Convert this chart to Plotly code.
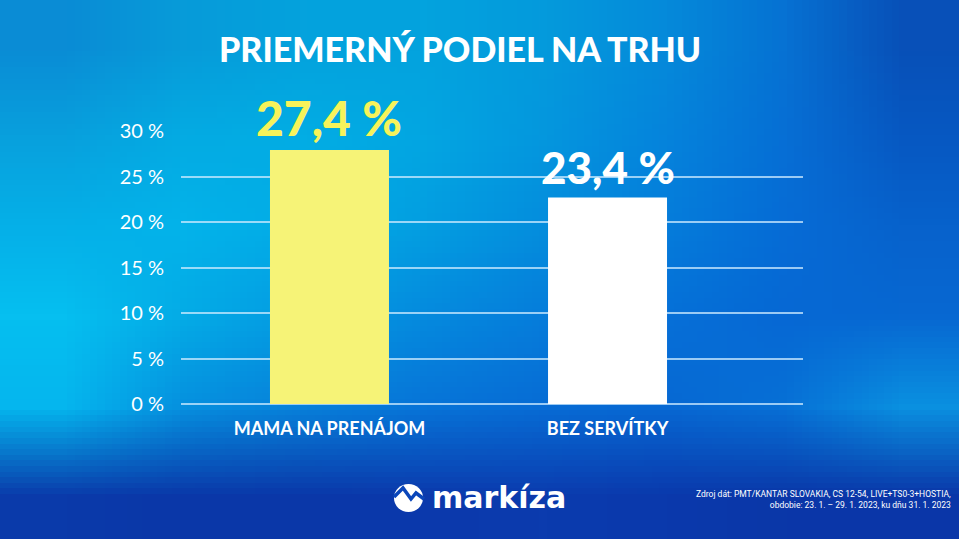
import base64
import struct
import zlib
import plotly.graph_objects as go

# chart data
shows = ["MAMA NA PRENÁJOM", "BEZ SERVÍTKY"]
share = [27.9, 22.7]            # bar heights as drawn
share_labels = ["27,4 %", "23,4 %"]
bar_colors = ["#f6f377", "#ffffff"]
label_colors = ["#f7f35a", "#ffffff"]
label_sizes = [48, 44]
y_ticks = [0, 5, 10, 15, 20, 25, 30]

title = "PRIEMERNÝ PODIEL NA TRHU"
source = "Zdroj dát: PMT/KANTAR SLOVAKIA, CS 12-54, LIVE+TS0-3+HOSTIA,<br>obdobie: 23. 1. – 29. 1. 2023, ku dňu 31. 1. 2023"

W, H = 959, 539

# background gradient, tiny png stretched by the browser
bg_rows = [
    ["#0a8cd5", "#079bd9", "#04a2dd", "#03a3de", "#049adc", "#058ada", "#0672d3", "#0850b8"],
    ["#08a0dd", "#04abe3", "#02ade4", "#03a6e2", "#0497de", "#0584dc", "#066fd5", "#0658c2"],
    ["#05b0e8", "#03b3ea", "#02abe6", "#039ee1", "#048ddd", "#057ddb", "#066cd6", "#0762cc"],
    ["#06bff0", "#04abe6", "#049ae2", "#058ade", "#067ddb", "#0670d8", "#0668d4", "#0768d2"],
    ["#05b6ee", "#0690df", "#0780da", "#0774d8", "#076cd5", "#0768d3", "#0770d6", "#0a90e0"],
    ["#0a3aaa", "#0a37a8", "#0a37a8", "#0b39ac", "#0b3bae", "#0a39ac", "#0a37a8", "#0a36a8"],
]


def rgb(h):
    h = h.lstrip("#")
    return [int(h[i:i + 2], 16) for i in (0, 2, 4)]


def png_uri(rows):
    w, h = len(rows[0]), len(rows)
    raw = b"".join(b"\x00" + bytes(sum((rgb(c) for c in row), [])) for row in rows)

    def chunk(t, d):
        return struct.pack(">I", len(d)) + t + d + struct.pack(">I", zlib.crc32(t + d) & 0xffffffff)

    png = (b"\x89PNG\r\n\x1a\n" + chunk(b"IHDR", struct.pack(">IIBBBBB", w, h, 8, 2, 0, 0, 0))
           + chunk(b"IDAT", zlib.compress(raw)) + chunk(b"IEND", b""))
    return "data:image/png;base64," + base64.b64encode(png).decode()


def px(x):
    return x / W


def py(y):
    return 1 - y / H


fig = go.Figure()
fig.add_trace(go.Bar(x=list(range(len(shows))), y=share, width=0.428,
                     marker=dict(color=bar_colors, line_width=0), hoverinfo="skip"))

for i, t in enumerate(share_labels):
    fig.add_annotation(x=i, y=share[i], xref="x", yref="y", text=t, showarrow=False,
                       yanchor="bottom", yshift=2,
                       font=dict(family="Lato", size=label_sizes[i], color=label_colors[i], weight=900))

fig.add_annotation(x=px(460), y=py(48), xref="paper", yref="paper", text=title,
                   showarrow=False, xanchor="center", yanchor="middle",
                   font=dict(family="Lato", size=34, color="white", weight=900))

fig.add_annotation(x=px(953), y=py(499), xref="paper", yref="paper", text=source,
                   showarrow=False, xanchor="right", yanchor="middle", align="right",
                   font=dict(family="Roboto", size=8.5, color="white"))

# logo
fig.add_shape(type="circle", xref="paper", yref="paper", x0=px(394), x1=px(423), y0=py(512), y1=py(484),
              fillcolor="white", line_width=0, layer="above")
fig.add_shape(type="path", xref="paper", yref="paper",
              path="M {} {} L {} {} L {} {} L {} {} L {} {}".format(
                  px(394), py(497), px(403), py(488), px(411), py(499), px(416), py(493), px(424), py(499)),
              line=dict(color="#0a46ba", width=3.5), layer="above")
fig.add_annotation(x=px(430), y=py(497), xref="paper", yref="paper", text="markíza",
                   showarrow=False, xanchor="left", yanchor="middle",
                   font=dict(family="DejaVu Sans", size=30, color="white", weight="bold"))

grid_col = "rgba(205,235,255,0.75)"
fig.update_layout(
    width=W, height=H,
    margin=dict(l=0, r=0, t=0, b=0),
    paper_bgcolor="#0a6fd6", plot_bgcolor="rgba(0,0,0,0)",
    showlegend=False,
    images=[dict(source=png_uri(bg_rows), xref="paper", yref="paper", x=0, y=1,
                 sizex=1, sizey=1, sizing="stretch", xanchor="left", yanchor="top", layer="below")],
    xaxis=dict(domain=[px(181), px(803)], range=[-0.534, 1.703], automargin=False,
               tickvals=list(range(len(shows))), ticktext=shows, showgrid=False,
               zeroline=False, showline=False, ticks="", ticklabelstandoff=12,
               tickfont=dict(family="Lato", size=18, color="white", weight="bold")),
    yaxis=dict(domain=[py(404), py(131)], range=[0, 30], automargin=False,
               tickvals=y_ticks, ticktext=[f"{v} %" for v in y_ticks],
               gridcolor=grid_col, gridwidth=2, zeroline=True, zerolinecolor=grid_col,
               zerolinewidth=2, showline=False, ticks="", ticklabelstandoff=16,
               tickfont=dict(family="Lato", size=20, color="white")),
)

fig.write_html("out.html", config={"displayModeBar": False},
               post_script="document.body.style.margin='0';")
